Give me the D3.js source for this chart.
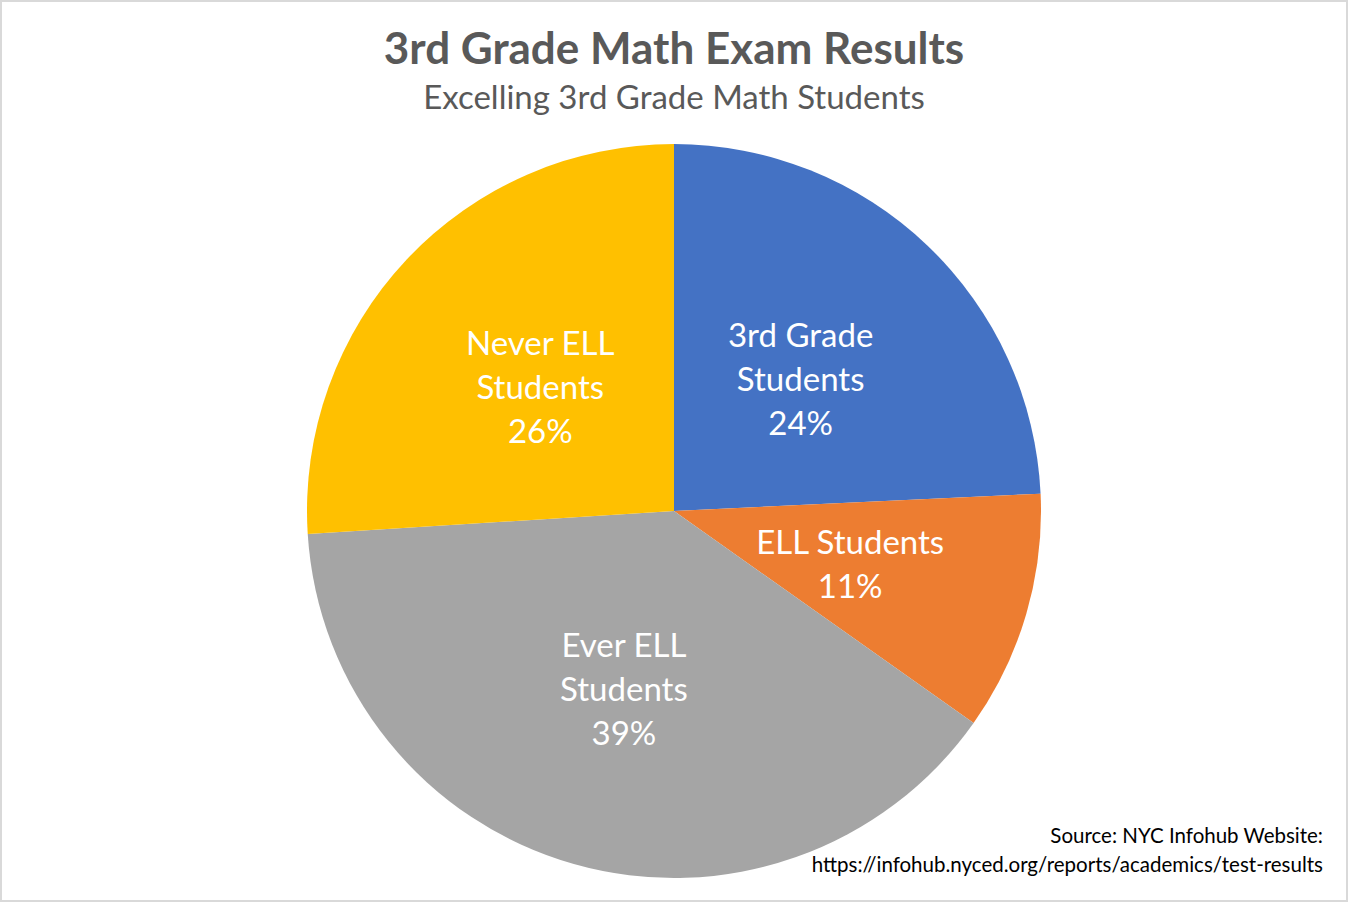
<!DOCTYPE html>
<html>
<head>
<meta charset="utf-8">
<script src="https://cdn.jsdelivr.net/npm/d3@7"></script>
<style>
  html, body { margin: 0; padding: 0; background: #fff; }
  svg { display: block; }
  text { font-family: Lato, "Open Sans", sans-serif; }
</style>
</head>
<body>
<svg id="chart" width="1348" height="902"></svg>
<script>
const categories = ["3rd Grade Students", "ELL Students", "Ever ELL Students", "Never ELL Students"];
const labelLines = [["3rd Grade", "Students"], ["ELL Students"], ["Ever ELL", "Students"], ["Never ELL", "Students"]];
const values = [24.25, 10.55, 39.2, 26.0];
const displayPct = ["24%", "11%", "39%", "26%"];
const colors = ["#4472C4", "#ED7D31", "#A5A5A5", "#FFC000"];
const title = "3rd Grade Math Exam Results";
const subtitle = "Excelling 3rd Grade Math Students";
const sourceLines = ["Source: NYC Infohub Website:", "https://infohub.nyced.org/reports/academics/test-results"];

const W = 1348, H = 902;
const svg = d3.select("#chart");

svg.append("rect").attr("x", 1).attr("y", 1).attr("width", W - 2).attr("height", H - 2)
  .attr("fill", "#fff").attr("stroke", "#D9D9D9").attr("stroke-width", 2);

svg.append("text").attr("x", 674).attr("y", 64).attr("text-anchor", "middle")
  .attr("font-size", 44).attr("font-weight", 700).attr("fill", "#595959").text(title);
svg.append("text").attr("x", 674).attr("y", 109).attr("text-anchor", "middle")
  .attr("font-size", 33).attr("fill", "#595959").text(subtitle);

const cx = 674, cy = 511, R = 367;
const pie = d3.pie().sort(null).value(d => d.v);
const data = pie(categories.map((c, i) => ({ c, v: values[i], i })));
const arc = d3.arc().innerRadius(0).outerRadius(R);
const labelArc = d3.arc().innerRadius(R * 0.5).outerRadius(R * 0.5);

const g = svg.append("g").attr("transform", `translate(${cx},${cy})`);
g.selectAll("path").data(data).join("path")
  .attr("d", arc).attr("fill", d => colors[d.data.i]);

const lineH = 44, fs = 33;
data.forEach(d => {
  const [x, y] = labelArc.centroid(d);
  const lines = labelLines[d.data.i].concat([displayPct[d.data.i]]);
  const n = lines.length;
  const t = g.append("text").attr("text-anchor", "middle").attr("fill", "#fff").attr("font-size", fs);
  lines.forEach((ln, k) => {
    t.append("tspan").attr("x", x).attr("y", y + (k - (n - 1) / 2) * lineH + fs * 0.4).text(ln);
  });
});

sourceLines.forEach((s, k) => {
  svg.append("text").attr("x", 1323).attr("y", 843 + k * 29).attr("text-anchor", "end")
    .attr("font-size", 20.5).attr("fill", "#000").text(s);
});
</script>
</body>
</html>
